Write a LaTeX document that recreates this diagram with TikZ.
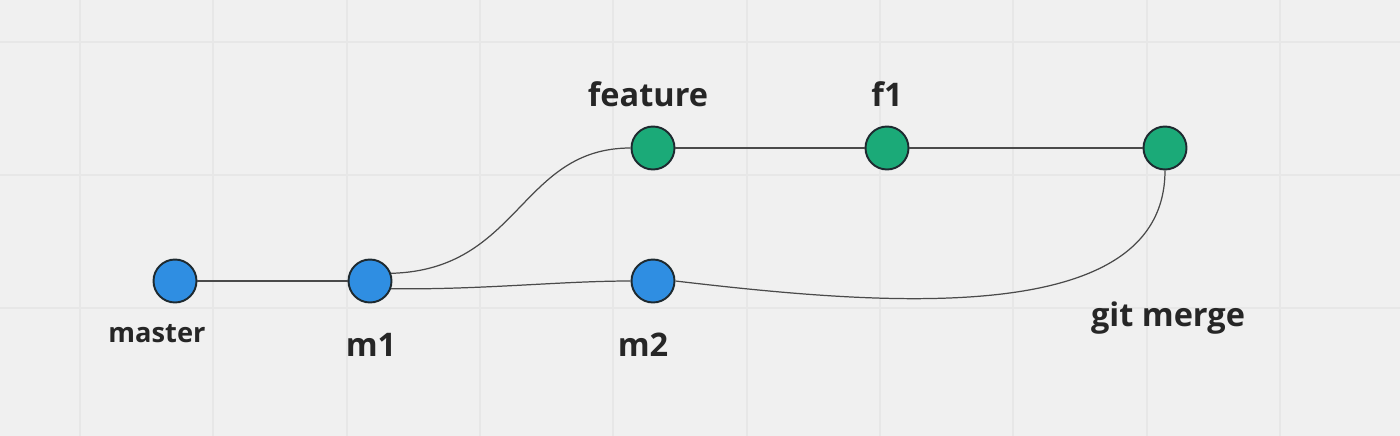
\documentclass[tikz,border=0pt]{standalone}
\usepackage{fontspec}
\setmainfont{Open Sans}
\usepackage{xcolor}
\usetikzlibrary{positioning, calc}

\definecolor{boardbg}{HTML}{F0F0F0}
\definecolor{gridln}{HTML}{E7E7E7}
\definecolor{mastercol}{HTML}{2F8EE2}
\definecolor{featurecol}{HTML}{1BAA78}
\definecolor{rimcol}{HTML}{1E2A30}
\definecolor{linkcol}{HTML}{4A4A4A}

\begin{document}
\begin{tikzpicture}[
  x=0.02cm, y=-0.02cm,
  commit/.style={circle, draw=rimcol, line width=1.1pt, minimum size=0.86cm, inner sep=0pt},
  mcommit/.style={commit, fill=mastercol},
  fcommit/.style={commit, fill=featurecol},
  lbl/.style={font=\fontsize{18.5}{20}\selectfont\bfseries, text=black!85, anchor=base, inner sep=0pt},
  link/.style={draw=linkcol, line width=0.7pt},
]

% Board
\fill[boardbg] (0,0) rectangle (1400,436);
\useasboundingbox (0,0) rectangle (1400,436);
\foreach \gx in {80,213,347,480,613,747,880,1013,1147,1280}
  \draw[gridln, line width=1pt] (\gx,0) -- (\gx,436);
\foreach \gy in {42,175,308}
  \draw[gridln, line width=1pt] (0,\gy) -- (1400,\gy);

% Master branch commits
\node[mcommit] (master) at (175,281) {};
\node[mcommit] (m1) at (370,281) {};
\node[mcommit] (m2) at (653,281) {};

% Feature branch commits
\node[fcommit] (feature) at (653,148) {};
\node[fcommit] (f1) at (887,148) {};
\node[fcommit] (fmerge) at (1165,148) {};

% Labels
\node[lbl, font=\fontsize{15.5}{17}\selectfont\bfseries] (masterlbl) at (157,342) {master};
\node[lbl] (m1lbl) at (371,356) {m1};
\node[lbl] (m2lbl) at (643,356) {m2};
\node[lbl] (featurelbl) at (648,106) {feature};
\node[lbl] (f1lbl) at (887,106) {f1};
\node[lbl] (mergelbl) at (1168,326) {git merge};

% Links
\draw[link] (master) -- (m1);
\draw[link] (m1.20) .. controls (520,270) and (520,148) .. (feature.west);
\draw[link] (m1.-20) .. controls (480,290) and (560,281) .. (m2.west);
\draw[link] (feature) -- (f1);
\draw[link] (f1) -- (fmerge);
\draw[link] (fmerge.south) .. controls (1165,330) and (880,305) .. (m2.east);
\end{tikzpicture}
\end{document}
